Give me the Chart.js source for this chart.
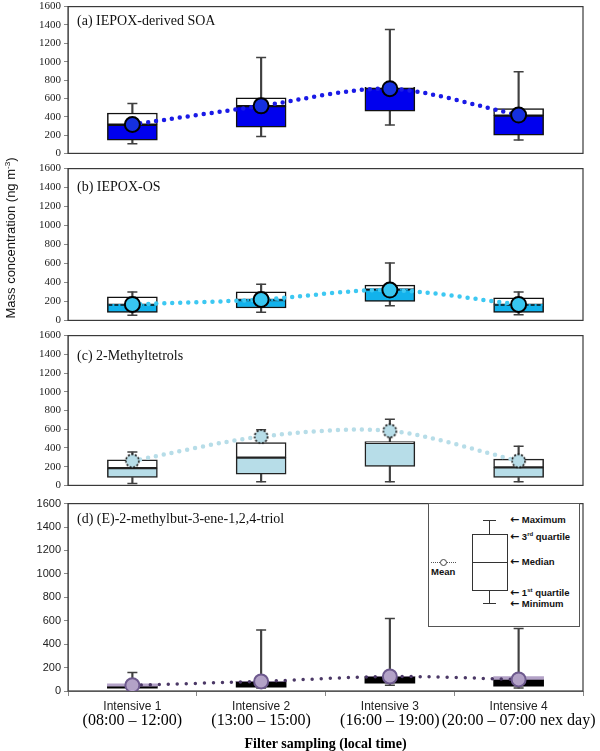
<!DOCTYPE html>
<html>
<head>
<meta charset="utf-8">
<script src="https://cdn.jsdelivr.net/npm/chart.js@4.4.1/dist/chart.umd.min.js"></script>
<style>
  body { margin: 0; background: #fff; }
  #hoja { position: relative; width: 600px; height: 751px; overflow: hidden; font-family: "Liberation Sans", Arial, sans-serif; }
  .panel { position: absolute; left: 0; width: 600px; }
  #ytitulo { position: absolute; left: -92px; top: 230px; width: 200px; height: 16px; line-height: 16px;
             text-align: center; font-size: 13px; color: #111; transform: rotate(-90deg); white-space: nowrap; }
  #ytitulo sup { font-size: 8px; }
  #leyenda { position: absolute; left: 428px; top: 503px; width: 150px; height: 122px; border: 1px solid #555; background: #fff; }
  .lg { position: absolute; }
  .lg-txt { position: absolute; font-size: 9.5px; font-weight: bold; color: #111; white-space: nowrap; line-height: 10px; }
  .lg-txt sup { font-size: 6px; }
  .flecha { font-family: "DejaVu Sans", sans-serif; font-size: 11px; font-weight: bold; }
</style>
</head>
<body>
<div id="hoja">
  <div class="panel" id="p-a"><canvas id="chart-a"></canvas></div>
  <div class="panel" id="p-b"><canvas id="chart-b"></canvas></div>
  <div class="panel" id="p-c"><canvas id="chart-c"></canvas></div>
  <div class="panel" id="p-d"><canvas id="chart-d"></canvas></div>
  <div id="ytitulo">Mass concentration (ng m<sup>-3</sup>)</div>

  <!-- Leyenda explicativa del box plot (panel d) -->
  <div id="leyenda">
    <div class="lg" style="left:60px;top:16px;width:1px;height:14px;background:#333"></div>
    <div class="lg" style="left:54px;top:16px;width:13px;height:1px;background:#333"></div>
    <div class="lg" style="left:43px;top:30px;width:34px;height:55px;border:1px solid #333"></div>
    <div class="lg" style="left:43px;top:58px;width:35px;height:1px;background:#333"></div>
    <div class="lg" style="left:60px;top:86px;width:1px;height:14px;background:#333"></div>
    <div class="lg" style="left:54px;top:99px;width:13px;height:1px;background:#333"></div>
    <div class="lg" style="left:2px;top:58px;width:25px;height:0;border-top:1px dotted #555"></div>
    <div class="lg" style="left:11px;top:55px;width:5px;height:5px;border:1px solid #444;border-radius:50%;background:#fff"></div>
    <div class="lg-txt" style="left:81px;top:11px"><span class="flecha">&larr;</span> Maximum</div>
    <div class="lg-txt" style="left:81px;top:25px"><span class="flecha">&larr;</span> 3<sup>rd</sup> quartile</div>
    <div class="lg-txt" style="left:81px;top:53px"><span class="flecha">&larr;</span> Median</div>
    <div class="lg-txt" style="left:81px;top:81px"><span class="flecha">&larr;</span> 1<sup>st</sup> quartile</div>
    <div class="lg-txt" style="left:81px;top:95px"><span class="flecha">&larr;</span> Minimum</div>
    <div class="lg-txt" style="left:2px;top:63px">Mean</div>
  </div>
</div>

<script>
// ── Datos ─────────────────────────────────────────────────────────────
const CATEGORIAS = ["Intensive 1", "Intensive 2", "Intensive 3", "Intensive 4"];
const HORARIOS   = ["(08:00 – 12:00)", "(13:00 – 15:00)", "(16:00 – 19:00)", "(20:00 – 07:00 nex day)"];
const Y_MIN = 0, Y_MAX = 1600, Y_PASO = 200;

// (a) IEPOX-derived SOA
const soaMin   = [105, 185, 310, 145];
const soaQ1    = [145, 285, 460, 200];
const soaMed   = [312, 515, 712, 412];
const soaQ3    = [440, 605, 720, 488];
const soaMax   = [545, 1045, 1350, 890];
const soaMedia = [315, 518, 705, 418];

// (b) IEPOX-OS
const osMin   = [55, 85, 155, 60];
const osQ1    = [83, 131, 200, 83];
const osMed   = [163, 215, 323, 163];
const osQ3    = [248, 300, 372, 237];
const osMax   = [300, 382, 606, 300];
const osMedia = [168, 220, 320, 168];

// (c) 2-Methyltetrols
const mtMin   = [20, 38, 38, 38];
const mtQ1    = [84, 119, 203, 84];
const mtMed   = [185, 297, 454, 192];
const mtQ3    = [272, 458, 468, 280];
const mtMax   = [356, 594, 706, 419];
const mtMedia = [262, 521, 583, 262];

// (d) (E)-2-methylbut-3-ene-1,2,4-triol
const trMin   = [8, 25, 50, 25];
const trQ1    = [25, 33, 66, 41];
const trMed   = [41, 82, 124, 99];
const trQ3    = [62, 82, 124, 124];
const trMax   = [157, 521, 620, 533];
const trMedia = [50, 82, 124, 99];

// ── Estilo ────────────────────────────────────────────────────────────
const BIGOTE = "#404040";
const SERIF  = "'Liberation Serif', 'Times New Roman', serif";
const SANS   = "'Liberation Sans', Arial, sans-serif";

Chart.defaults.font.family = SANS;
Chart.defaults.color = "#222";

// Círculo con borde punteado para la media del panel (c)
function circuloPunteado(radio, relleno) {
  const c = document.createElement("canvas");
  const t = radio * 2 + 4;
  c.width = c.height = t;
  const ctx = c.getContext("2d");
  ctx.beginPath();
  ctx.arc(t / 2, t / 2, radio, 0, Math.PI * 2);
  ctx.fillStyle = relleno;
  ctx.fill();
  ctx.setLineDash([2, 1.6]);
  ctx.lineWidth = 1.6;
  ctx.strokeStyle = "#111";
  ctx.stroke();
  return c;
}

// ── Plugins: marco del área, título interno y mediana punteada ───────
const marcoPlugin = {
  id: "marco",
  beforeDatasetsDraw(chart) {
    const { ctx, chartArea: a } = chart;
    ctx.save();
    ctx.strokeStyle = "#3a3a3a";
    ctx.lineWidth = 1.2;
    ctx.strokeRect(a.left, a.top, a.right - a.left, a.bottom - a.top);
    ctx.restore();
  },
};

const tituloPlugin = {
  id: "tituloPanel",
  afterDraw(chart, args, opts) {
    const { ctx, chartArea: a } = chart;
    ctx.save();
    ctx.font = `14px ${SERIF}`;
    ctx.fillStyle = "#111";
    ctx.textBaseline = "middle";
    ctx.fillText(opts.texto, a.left + 9, a.top + opts.dy);
    ctx.restore();
  },
};

// En (b) la mediana es una línea discontinua: se redibuja sobre la caja superior
const medianaPlugin = {
  id: "medianaPunteada",
  afterDatasetDraw(chart, args, opts) {
    if (!opts.activo || args.index !== 3) return;
    const { ctx } = chart;
    ctx.save();
    args.meta.data.forEach(bar => {
      const y = bar.base, x0 = bar.x - bar.width / 2, x1 = bar.x + bar.width / 2;
      ctx.lineWidth = 2;
      ctx.strokeStyle = opts.fondo;
      ctx.beginPath(); ctx.moveTo(x0 + 1, y); ctx.lineTo(x1 - 1, y); ctx.stroke();
      ctx.setLineDash([4, 2]);
      ctx.strokeStyle = "#111";
      ctx.lineWidth = 1.5;
      ctx.beginPath(); ctx.moveTo(x0 + 1, y); ctx.lineTo(x1 - 1, y); ctx.stroke();
      ctx.setLineDash([]);
    });
    ctx.restore();
  },
};

// ── Paneles ───────────────────────────────────────────────────────────
const PANELES = [
  { div: "p-a", canvas: "chart-a", top: -3, alto: 166, titulo: "(a) IEPOX-derived SOA", dy: 15,
    min: soaMin, q1: soaQ1, med: soaMed, q3: soaQ3, max: soaMax, media: soaMedia,
    cajaBaja: "#0000EE", cajaAlta: "#FFFFFF", borde: "#111", bordeAncho: 1.5,
    linea: "#1A1AE6", lineaAncho: 4.5, dash: [0, 8], punto: "#1530E0", puntoBorde: "#000", radio: 7.5 },
  { div: "p-b", canvas: "chart-b", top: 159, alto: 171, titulo: "(b) IEPOX-OS", dy: 19,
    min: osMin, q1: osQ1, med: osMed, q3: osQ3, max: osMax, media: osMedia,
    cajaBaja: "#12B2EC", cajaAlta: "#FFFFFF", borde: "#111", bordeAncho: 1.5,
    linea: "#3DC8F2", lineaAncho: 4.5, dash: [0, 8], punto: "#38C6F0", puntoBorde: "#000", radio: 7.5,
    medianaPunteada: true },
  { div: "p-c", canvas: "chart-c", top: 326, alto: 169, titulo: "(c) 2-Methyltetrols", dy: 21,
    min: mtMin, q1: mtQ1, med: mtMed, q3: mtQ3, max: mtMax, media: mtMedia,
    cajaBaja: "#B7DDE8", cajaAlta: "#FFFFFF", borde: "#222", bordeAncho: 1.5,
    linea: "#B7DDE8", lineaAncho: 4.5, dash: [0, 8], punto: "#B7DDE8", puntoBorde: "#000", radio: 7,
    estiloPunto: circuloPunteado(6.5, "#B7DDE8") },
  { div: "p-d", canvas: "chart-d", top: 494, alto: 257, titulo: "(d) (E)-2-methylbut-3-ene-1,2,4-triol", dy: 16,
    min: trMin, q1: trQ1, med: trMed, q3: trQ3, max: trMax, media: trMedia,
    cajaBaja: "#000000", cajaAlta: "#B3A2C7", borde: "#000", bordeAncho: 0,
    linea: "#4B3866", lineaAncho: 3.5, dash: [0, 9], punto: "#B3A2C7", puntoBorde: "#6E5A8E", radio: 7,
    ejeX: true, ticksSans: true },
];

function crearPanel(p) {
  const cont = document.getElementById(p.div);
  cont.style.top = p.top + "px";
  cont.style.height = p.alto + "px";

  const datasets = [
    // bigotes
    { type: "bar", data: p.min.map((v, i) => [v, p.q1[i]]), backgroundColor: BIGOTE,
      barThickness: 1.5, grouped: false, order: 5 },
    { type: "bar", data: p.q3.map((v, i) => [v, p.max[i]]), backgroundColor: BIGOTE,
      barThickness: 1.5, grouped: false, order: 5 },
    // caja Q1–mediana y mediana–Q3
    { type: "bar", data: p.q1.map((v, i) => [v, p.med[i]]), backgroundColor: p.cajaBaja,
      borderColor: p.borde, borderWidth: p.bordeAncho, borderSkipped: false,
      barThickness: 50, grouped: false, order: 3 },
    { type: "bar", data: p.med.map((v, i) => [v, p.q3[i]]), backgroundColor: p.cajaAlta,
      borderColor: p.borde, borderWidth: p.bordeAncho, borderSkipped: false,
      barThickness: 50, grouped: false, order: 2 },
    // topes de los bigotes
    { type: "line", data: p.max, showLine: false, pointStyle: "line", pointRadius: 5,
      pointBorderColor: BIGOTE, pointBorderWidth: 1.5, order: 1 },
    { type: "line", data: p.min, showLine: false, pointStyle: "line", pointRadius: 5,
      pointBorderColor: BIGOTE, pointBorderWidth: 1.5, order: 1 },
    // media
    { type: "line", data: p.media, borderColor: p.linea, borderWidth: p.lineaAncho,
      borderDash: p.dash, borderCapStyle: "round", tension: 0.3, fill: false,
      pointStyle: p.estiloPunto || "circle", pointRadius: p.radio,
      pointBackgroundColor: p.punto, pointBorderColor: p.puntoBorde, pointBorderWidth: 2, order: 0 },
  ];

  const scales = {
    x: {
      display: !!p.ejeX, offset: true,
      grid: { offset: true, drawOnChartArea: false, tickLength: 5, color: "#888" },
      border: { color: "#888" },
      ticks: { font: { family: SANS, size: 12 }, color: "#222", padding: 3, maxRotation: 0, autoSkip: false },
    },
    y: {
      min: Y_MIN, max: Y_MAX,
      ticks: { stepSize: Y_PASO, padding: 3, color: "#222", autoSkip: false,
               callback: v => String(v),
               font: { family: p.ticksSans ? SANS : SERIF, size: 11 } },
      grid: { drawOnChartArea: false, tickLength: 4, color: "#888" },
      border: { color: "#888" },
      afterFit: s => { s.width = 68; },
    },
  };

  if (p.ejeX) {
    scales.x.afterFit = s => { s.height = 22; };
    scales.x2 = {
      type: "category", labels: HORARIOS, position: "bottom", offset: true,
      grid: { display: false, drawTicks: false }, border: { display: false },
      ticks: { font: { family: SERIF, size: 16, lineHeight: 1 }, color: "#000", padding: 0,
               maxRotation: 0, autoSkip: false },
      title: { display: true, text: "Filter sampling (local time)", color: "#000",
               font: { family: SERIF, size: 14, weight: "bold", lineHeight: 1 }, padding: 0 },
      afterFit: s => { s.height = 38; },
    };
  }

  return new Chart(document.getElementById(p.canvas), {
    type: "bar",
    data: { labels: CATEGORIAS, datasets },
    options: {
      responsive: true, maintainAspectRatio: false, animation: false,
      layout: { padding: { top: 8, bottom: p.ejeX ? 0 : 8, left: 0, right: 17 } },
      plugins: {
        legend: { display: false }, tooltip: { enabled: false },
        tituloPanel: { texto: p.titulo, dy: p.dy },
        medianaPunteada: { activo: !!p.medianaPunteada, fondo: p.cajaBaja },
      },
      scales,
    },
    plugins: [marcoPlugin, tituloPlugin, medianaPlugin],
  });
}

// ── Init ──────────────────────────────────────────────────────────────
PANELES.forEach(crearPanel);
</script>
</body>
</html>
